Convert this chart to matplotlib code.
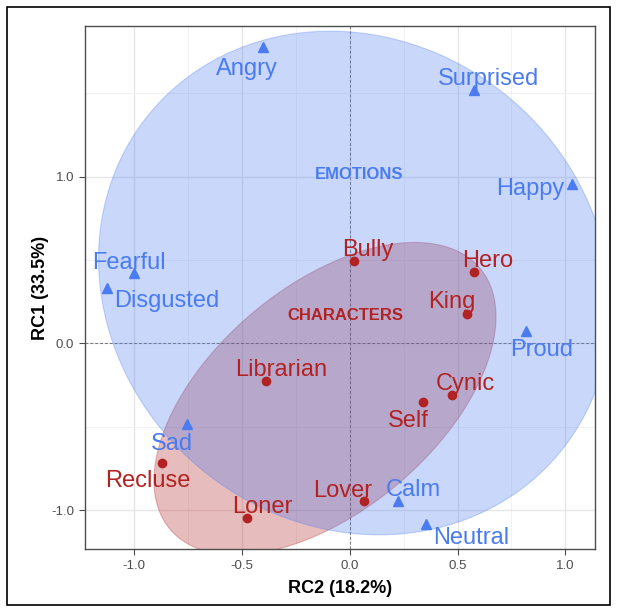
import numpy as np
import matplotlib
matplotlib.use("Agg")
import matplotlib.pyplot as plt
from matplotlib.patches import Polygon, Rectangle

plt.rcParams['font.family'] = ['Liberation Sans', 'DejaVu Sans']

# ---------------------------------------------------------
# data
# ---------------------------------------------------------
emotions = ['Angry', 'Surprised', 'Happy', 'Fearful', 'Disgusted',
            'Proud', 'Sad', 'Calm', 'Neutral']
emo_rc2 = [-0.401, 0.577, 1.029, -1.000, -1.124, 0.819, -0.752, 0.226, 0.354]
emo_rc1 = [1.776, 1.521, 0.954, 0.425, 0.335, 0.076, -0.486, -0.945, -1.081]

characters = ['Bully', 'Hero', 'King', 'Librarian', 'Cynic', 'Self',
              'Recluse', 'Lover', 'Loner']
chr_rc2 = [0.018, 0.577, 0.544, -0.387, 0.473, 0.341, -0.869, 0.066, -0.476]
chr_rc1 = [0.494, 0.427, 0.177, -0.227, -0.307, -0.354, -0.715, -0.947, -1.048]

# label offsets in pixels (repelled text)
emo_off = [(-16, -19), (14, 13), (-41, -2), (-5, 12), (60, -11),
           (15, -17), (-15, -17), (15, 13), (45, -12)]
chr_off = [(14, 14), (14, 14), (-15, 14), (15, 14), (14, 13),
           (-15, -16), (-14, -16), (-21, 13), (15, 14)]

BLUE = '#4a7bf0'
RED = '#b22222'


def mvee(P, tol=1e-5, max_iter=2000):
    # Khachiyan minimum volume enclosing ellipse (points scaled to ~1)
    scale = np.abs(P).max()
    P = P / scale
    N, d = P.shape
    Q = np.vstack([P.T, np.ones(N)])
    u = np.ones(N) / N
    for _ in range(max_iter):
        X = (Q * u) @ Q.T
        M = np.einsum('ij,ji->i', Q.T @ np.linalg.inv(X), Q)
        j = np.argmax(M)
        step = (M[j] - d - 1) / ((d + 1) * (M[j] - 1))
        new_u = (1 - step) * u
        new_u[j] += step
        err = np.linalg.norm(new_u - u)
        u = new_u
        if err < tol:
            break
    c = P.T @ u
    A = np.linalg.inv((P.T * u) @ P - np.outer(c, c)) / d
    return c * scale, A / scale ** 2


def mark_ellipse(ax, xs, ys, expand_px, **kw):
    pts = ax.transData.transform(np.column_stack([xs, ys]))
    c, A = mvee(pts)
    vals, vecs = np.linalg.eigh(A)
    axes_len = 1 / np.sqrt(vals) + expand_px
    t = np.linspace(0, 2 * np.pi, 300)
    circ = np.column_stack([np.cos(t) * axes_len[0], np.sin(t) * axes_len[1]])
    disp = circ @ vecs.T + c
    data = ax.transData.inverted().transform(disp)
    ax.add_patch(Polygon(data, closed=True, **kw))


fig = plt.figure(figsize=(6.17, 6.12), dpi=100)
ax = fig.add_axes([0.137, 0.1026, 0.828, 0.8554])
ax.set_xlim(-1.229, 1.139)
ax.set_ylim(-1.235, 1.906)

# grid
ax.set_xticks([-1.0, -0.5, 0.0, 0.5, 1.0])
ax.set_xticklabels(['-1.0', '-0.5', '0.0', '0.5', '1.0'])
ax.set_yticks([-1.0, 0.0, 1.0])
ax.set_yticklabels(['-1.0', '0.0', '1.0'])
ax.set_xticks([-0.75, -0.25, 0.25, 0.75], minor=True)
ax.set_yticks([-0.5, 0.5, 1.5], minor=True)
ax.grid(which='major', color='#e6e6e6', lw=1.0, zorder=0)
ax.grid(which='minor', color='#f0f0f0', lw=0.6, zorder=0)
ax.set_axisbelow(True)
ax.tick_params(which='minor', length=0)
ax.tick_params(which='major', length=4, color='#4d4d4d', labelsize=9.5,
               labelcolor='#4d4d4d', width=0.8)

ax.axhline(0, color='#777777', lw=0.7, ls=(0, (3, 2)), zorder=1)
ax.axvline(0, color='#777777', lw=0.7, ls=(0, (3, 2)), zorder=1)

# enclosing ellipses
mark_ellipse(ax, chr_rc2, chr_rc1, 7, facecolor=RED, alpha=0.3,
             edgecolor=RED, lw=0.8, zorder=2)
mark_ellipse(ax, emo_rc2, emo_rc1, 7, facecolor=BLUE, alpha=0.3,
             edgecolor=BLUE, lw=0.8, zorder=3)

# points
ax.plot(emo_rc2, emo_rc1, ls='none', marker='^', ms=7, color=BLUE, zorder=4)
ax.plot(chr_rc2, chr_rc1, ls='none', marker='o', ms=6, color=RED, zorder=4)

# labels
for name, x, y, (dx, dy) in zip(emotions, emo_rc2, emo_rc1, emo_off):
    ax.annotate(name, (x, y), xytext=(dx, dy - 8.5), textcoords='offset pixels',
                ha='center', va='baseline', fontsize=17, color=BLUE, zorder=5)
for name, x, y, (dx, dy) in zip(characters, chr_rc2, chr_rc1, chr_off):
    ax.annotate(name, (x, y), xytext=(dx, dy - 8.5), textcoords='offset pixels',
                ha='center', va='baseline', fontsize=17, color=RED, zorder=5)

ax.text(0.043, 1.013, 'EMOTIONS', ha='center', va='center', fontsize=12,
        fontweight='bold', color=BLUE, zorder=5)
ax.text(-0.018, 0.165, 'CHARACTERS', ha='center', va='center', fontsize=12,
        fontweight='bold', color=RED, zorder=5)

ax.set_xlabel('RC2 (18.2%)', fontsize=13, fontweight='bold', labelpad=6)
ax.set_ylabel('RC1 (33.5%)', fontsize=13, fontweight='bold', labelpad=1.5)

for s in ax.spines.values():
    s.set_color('#4d4d4d')
    s.set_linewidth(1.0)

# outer frame
fig.patches.append(Rectangle((7 / 617, 7 / 612), 603 / 617, 598 / 612,
                             transform=fig.transFigure, fill=False,
                             edgecolor='black', lw=1.2))

fig.savefig('out.png', dpi=100)
